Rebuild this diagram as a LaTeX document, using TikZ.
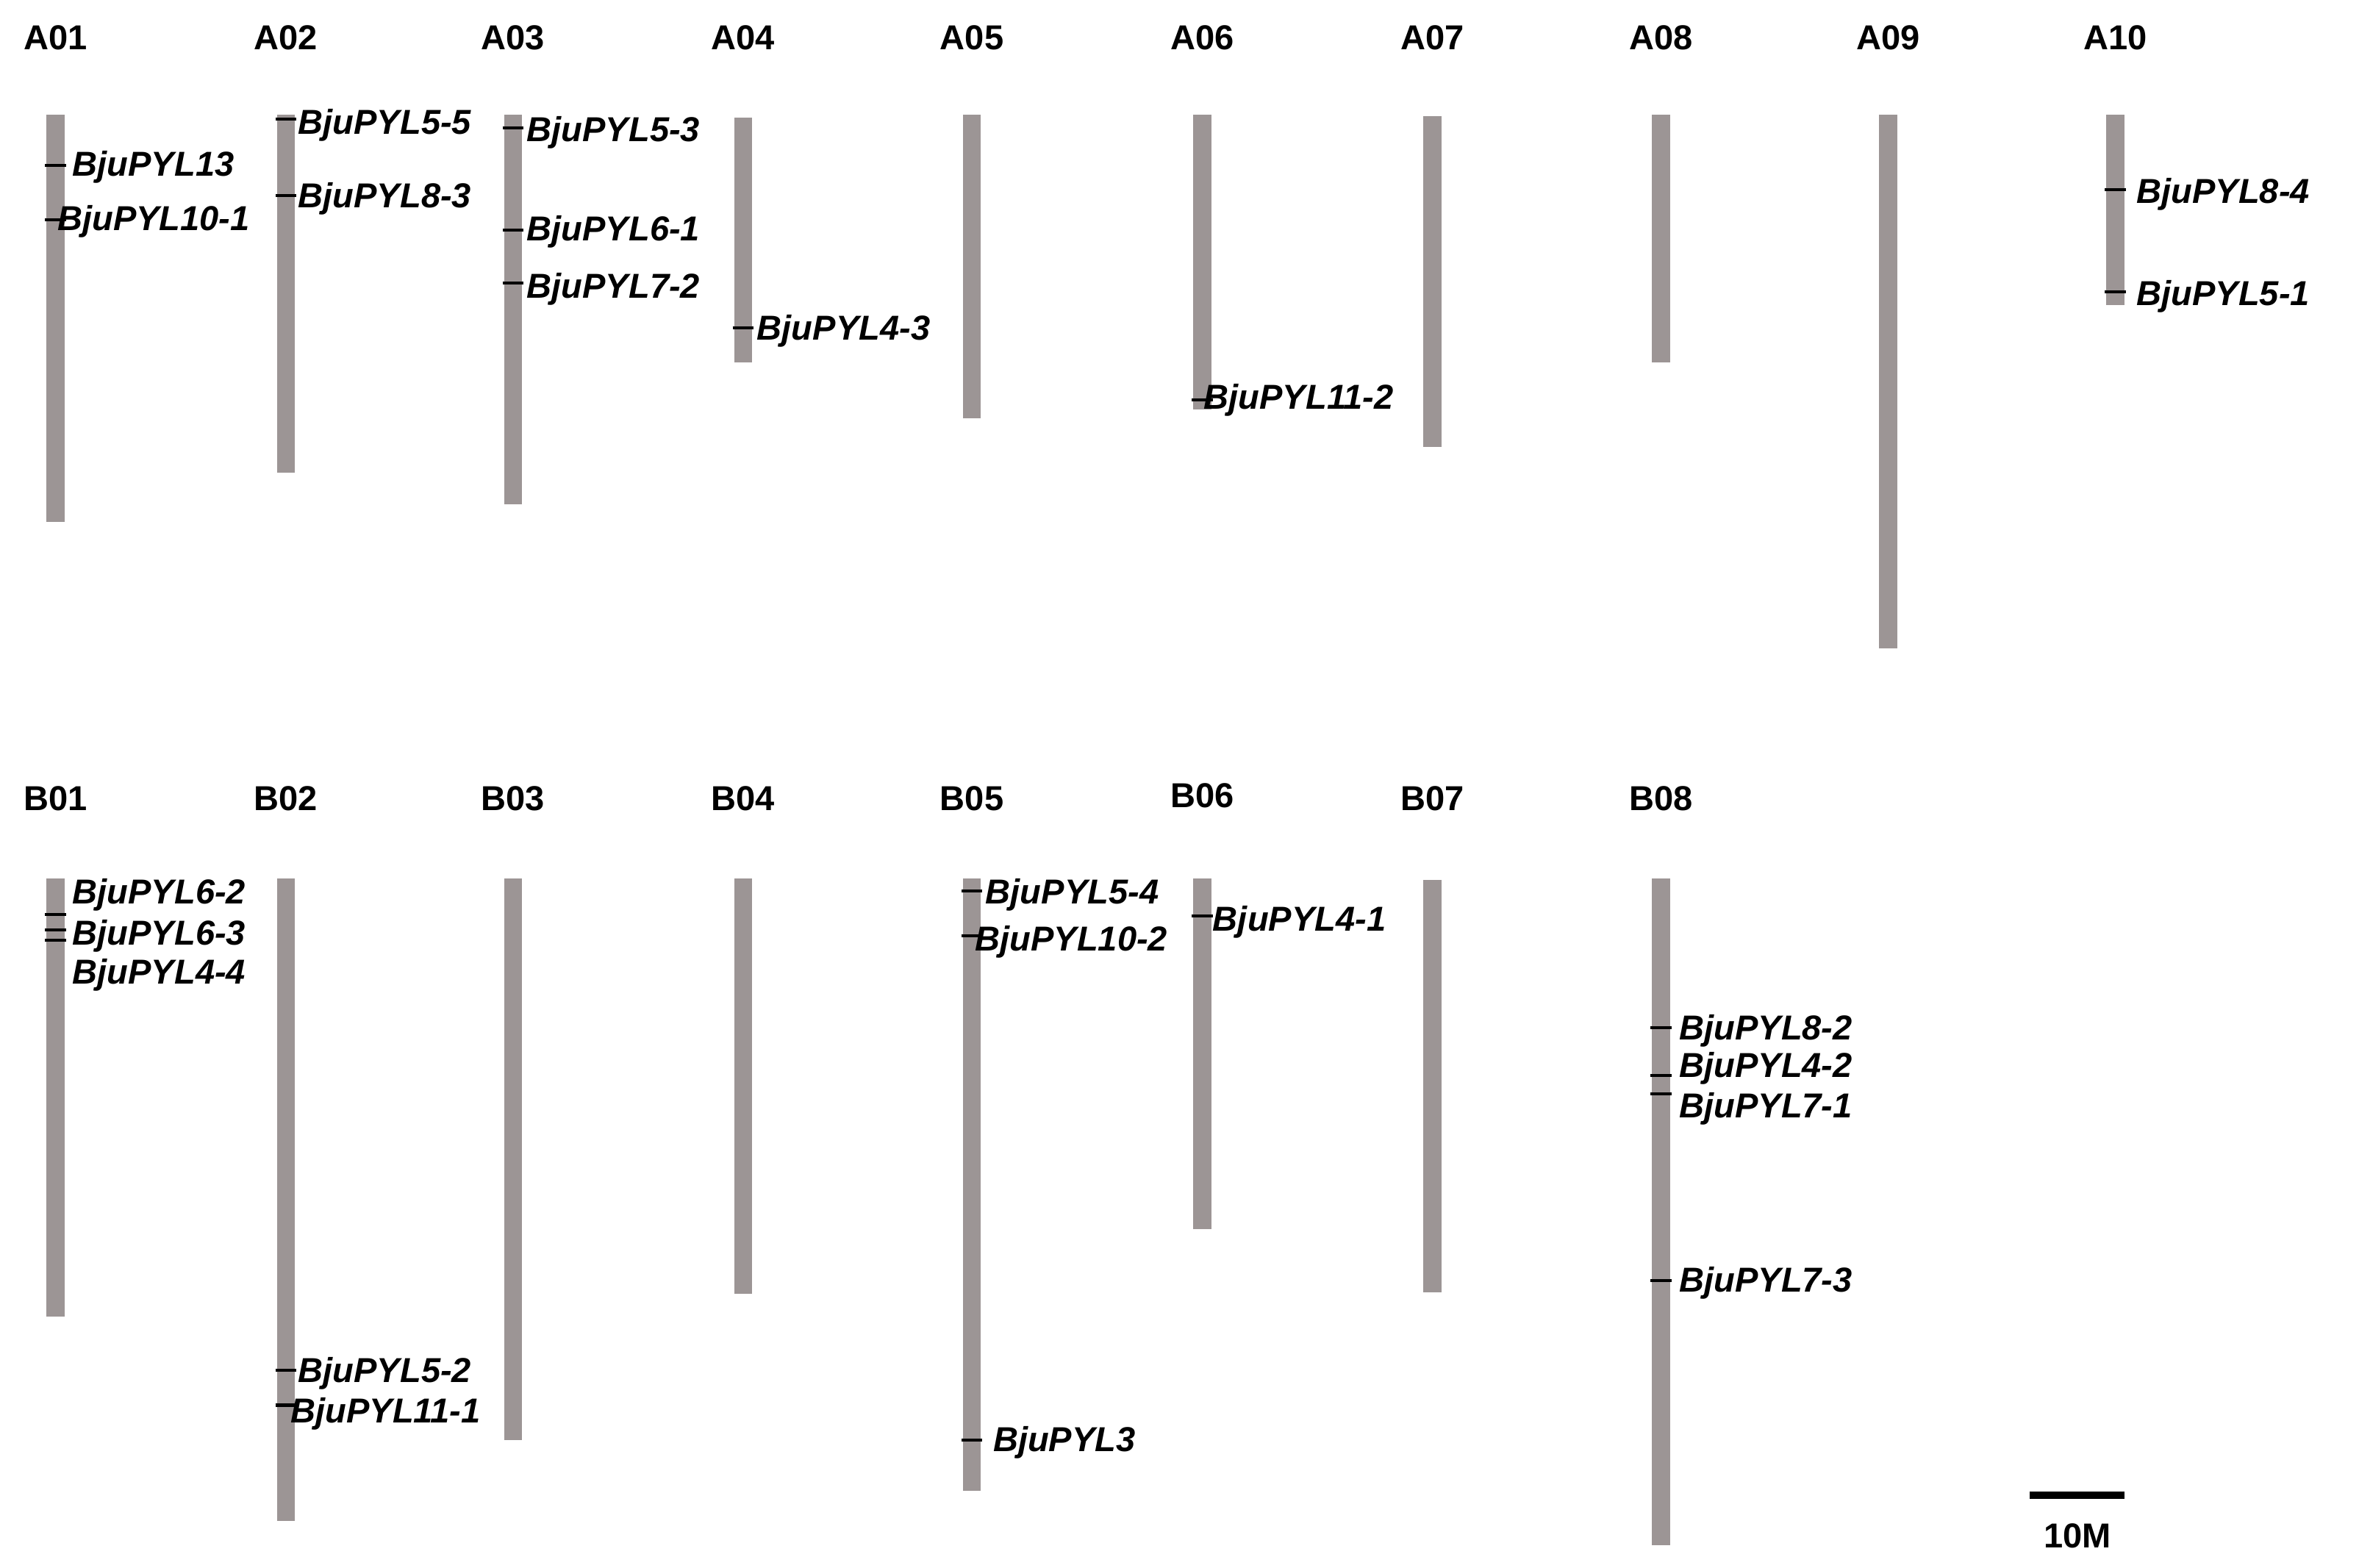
\documentclass[tikz,border=0pt]{standalone}
\usepackage{fontspec}
\setmainfont{Liberation Sans}
\definecolor{chr}{HTML}{9C9595}
\tikzset{chrom/.style={fill=chr,draw=none},
 lab/.style={font=\fontsize{23}{23}\selectfont\bfseries},
 gene/.style={font=\fontsize{23}{23}\selectfont\bfseries\itshape,anchor=west,inner sep=0pt},
 tick/.style={line width=2pt,black}}
\newcommand{\chrm}[5]{% name, x, top, bottom, label y
 \fill[chrom] (#2-6,#3) rectangle (#2+6,#4);
 \node[lab] (L#1) at (#2,#5) {#1};}
\newcommand{\gn}[5]{% name, chrx, ticky, labx, laby
 \coordinate (t1#1) at (#2-7,#3); \coordinate (t2#1) at (#2+7,#3);
 \draw[tick] (t1#1) -- (t2#1);
 \node[gene] (g#1) at (#4,#5) {#1};}
\begin{document}
\begin{tikzpicture}[x=1pt,y=-1pt]
\useasboundingbox (0,0) rectangle (1568,1042);
\chrm{A01}{37}{76}{347}{25}
\chrm{A02}{190}{76}{314}{25}
\chrm{A03}{341}{76}{335}{25}
\chrm{A04}{494}{78}{241}{25}
\chrm{A05}{646}{76}{278}{25}
\chrm{A06}{799}{76}{272}{25}
\chrm{A07}{952}{77}{297}{25}
\chrm{A08}{1104}{76}{241}{25}
\chrm{A09}{1255}{76}{431}{25}
\chrm{A10}{1406}{76}{203}{25}
\chrm{B01}{37}{584}{875}{531}
\chrm{B02}{190}{584}{1011}{531}
\chrm{B03}{341}{584}{957}{531}
\chrm{B04}{494}{584}{860}{531}
\chrm{B05}{646}{584}{991}{531}
\chrm{B06}{799}{584}{817}{529}
\chrm{B07}{952}{585}{859}{531}
\chrm{B08}{1104}{584}{1027}{531}
\gn{BjuPYL13}{37}{110}{48}{111}
\gn{BjuPYL10-1}{37}{146}{38}{147}
\gn{BjuPYL5-5}{190}{79}{198}{83}
\gn{BjuPYL8-3}{190}{130}{198}{132}
\gn{BjuPYL5-3}{341}{85}{350}{88}
\gn{BjuPYL6-1}{341}{153}{350}{154}
\gn{BjuPYL7-2}{341}{188}{350}{192}
\gn{BjuPYL4-3}{494}{218}{503}{220}
\gn{BjuPYL11-2}{799}{266}{800}{266}
\gn{BjuPYL8-4}{1406}{126}{1420}{129}
\gn{BjuPYL5-1}{1406}{194}{1420}{197}
\gn{BjuPYL6-2}{37}{608}{48}{595}
\gn{BjuPYL6-3}{37}{618}{48}{622}
\draw[tick] (30,625) -- (44,625);
\node[gene] (gB44) at (48,648) {BjuPYL4-4};
\gn{BjuPYL5-2}{190}{911}{198}{913}
\gn{BjuPYL11-1}{190}{934}{193}{940}
\gn{BjuPYL5-4}{646}{592}{655}{595}
\gn{BjuPYL10-2}{646}{622}{648}{626}
\gn{BjuPYL3}{646}{957}{660}{959}
\gn{BjuPYL4-1}{799}{609}{806}{613}
\gn{BjuPYL8-2}{1104}{683}{1116}{685}
\gn{BjuPYL4-2}{1104}{715}{1116}{710}
\gn{BjuPYL7-1}{1104}{727}{1116}{737}
\gn{BjuPYL7-3}{1104}{851}{1116}{853}
\coordinate (s1) at (1349,994); \coordinate (s2) at (1412,994);
\draw[line width=5pt] (s1) -- (s2);
\node[lab] (sc) at (1381,1021) {10M};
\end{tikzpicture}
\end{document}
